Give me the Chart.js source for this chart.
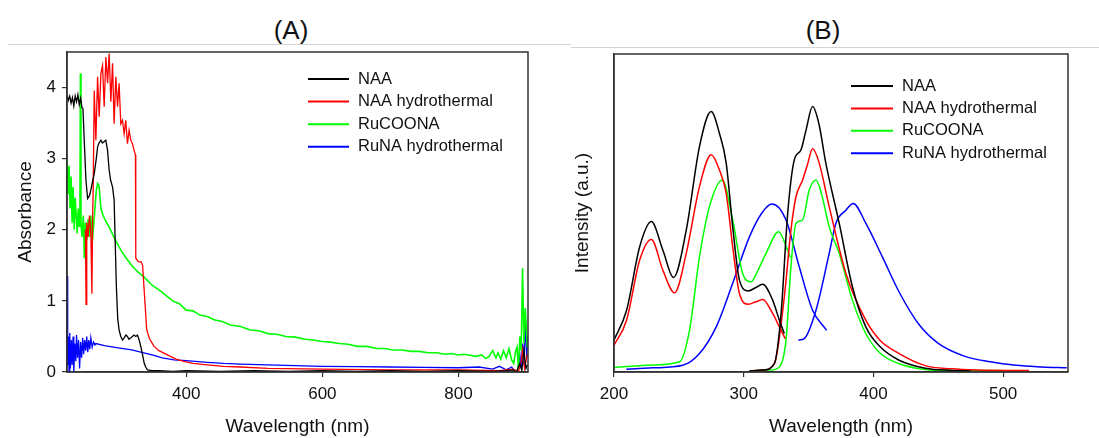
<!DOCTYPE html>
<html>
<head>
<meta charset="utf-8">
<script src="https://cdn.jsdelivr.net/npm/chart.js@4.4.1/dist/chart.umd.min.js"></script>
<style>
  body { margin: 0; background: #fff; width: 1099px; height: 438px; overflow: hidden; position: relative; font-family: 'Liberation Sans', Arial, sans-serif; }
  canvas { position: absolute; top: 0; }
  #chartA { left: 0; }
  #chartB { left: 560px; }
  .panelTitle { position: absolute; top: 15px; line-height: 30px; font-size: 26px; color: #111; transform: translateX(-50%); }
  .rule { position: absolute; height: 0; border-top: 1.5px solid #d4d4d4; }
</style>
</head>
<body>
<div class="panelTitle" style="left:291px">(A)</div>
<div class="panelTitle" style="left:823px">(B)</div>
<div class="rule" style="left:8px; width:563px; top:44px"></div>
<div class="rule" style="left:571px; width:528px; top:47px"></div>
<canvas id="chartA" width="560" height="438"></canvas>
<canvas id="chartB" width="539" height="438"></canvas>
<script>
// series names and tick values
const seriesNames = ['NAA', 'NAA hydrothermal', 'RuCOONA', 'RuNA hydrothermal'];
const xTicksA = [400, 600, 800];
const yTicksA = [0, 1, 2, 3, 4];
const xTicksB = [200, 300, 400, 500];

// (A) absorbance, [wavelength nm, absorbance]
const absNAA = [[225,3.9],[227,3.82],[229,3.88],[231,3.78],[233,3.86],[235,3.74],[237,3.88],[239,3.8],[241,3.9],[243,3.76],[245,3.85],[247,3.72],[248.5,3.7],[250.3,3.26],[252.8,2.7],[255.3,2.44],[258,2.48],[260.1,2.56],[263,2.7],[265,2.79],[268,3.0],[270,3.17],[272,3.22],[274.8,3.26],[277,3.22],[279.7,3.24],[282,3.26],[284.5,3.12],[286.9,2.84],[289,2.7],[291.9,2.6],[294.2,2.42],[295.7,1.86],[297.5,1.2],[299.5,0.75],[301.5,0.59],[304,0.5],[306.5,0.45],[309,0.48],[311.5,0.52],[313.8,0.5],[316,0.46],[318.7,0.48],[321,0.5],[323.5,0.52],[326,0.5],[328.5,0.52],[331,0.45],[333.3,0.36],[335.8,0.25],[338.2,0.13],[340.5,0.07],[343.1,0.03],[350,0.02],[360,0.02],[380,0.01],[400,0.02],[450,0.01],[500,0.02],[550,0.01],[600,0.02],[650,0.01],[700,0.02],[750,0.01],[800,0.02],[850,0.01],[870,0.02],[880,0.03],[885,0.0],[890,0.12],[893,0.02],[896,0.3],[899,0.05],[901,0.1]];
const absNAAHydro = [[252,2.0],[253,0.95],[254,2.1],[256,1.9],[258,2.2],[260,1.95],[261.6,1.1],[262.5,2.1],[263.5,2.6],[265,3.96],[267.4,3.26],[269.9,4.15],[272.3,3.59],[274.8,4.2],[277.2,4.31],[279.6,3.73],[282.1,4.43],[284.6,4.06],[286.9,4.48],[289.4,3.8],[291.9,4.34],[294.2,3.49],[296.7,4.15],[299.2,3.73],[301.5,4.06],[304,3.49],[306.5,3.54],[308.9,3.35],[311.3,3.54],[313.8,3.21],[316.2,3.4],[318.7,3.26],[321.1,3.21],[323.5,3.12],[325.5,3.05],[326,1.6],[330,1.55],[334,1.55],[336,1.5],[338,1.2],[340,0.9],[342,0.6],[346,0.47],[352.8,0.36],[360,0.3],[372.4,0.24],[385,0.18],[396.7,0.15],[410,0.12],[430.9,0.1],[455,0.08],[479.6,0.07],[520,0.05],[600,0.04],[700,0.03],[800,0.03],[860,0.02],[880,0.04],[888,0.01],[892,0.15],[894,0.31],[897,0.05],[901,0.25]];
const absRuCOONA = [[225,3.0],[226.5,2.5],[228,2.9],[229.5,2.3],[231,2.75],[232.5,2.1],[234,2.6],[235.5,2.0],[237,2.45],[238.5,2.2],[240,1.95],[241.5,2.3],[243,2.05],[244,2.2],[244.7,4.2],[245.5,2.1],[247,1.9],[249,2.2],[250.5,1.6],[252,2.1],[254,1.85],[256,2.15],[258,1.9],[260,2.2],[262,1.8],[264,2.05],[266,2.3],[268,2.55],[270,2.65],[272,2.62],[274.8,2.3],[278,2.2],[282,2.12],[288,2.02],[295.6,1.86],[305,1.7],[312,1.6],[321.6,1.48],[330,1.4],[337.5,1.34],[350,1.22],[363.6,1.13],[380,1.0],[390,0.96],[400,0.87],[410,0.86],[420,0.8],[431,0.78],[442,0.73],[453,0.71],[465,0.66],[480,0.64],[494,0.59],[507,0.58],[520,0.54],[533,0.53],[546.5,0.5],[560,0.49],[575,0.46],[587,0.45],[600,0.43],[612,0.42],[625,0.4],[638,0.39],[651,0.36],[665,0.36],[680,0.33],[692,0.33],[703,0.31],[717,0.31],[730,0.29],[742,0.29],[755.6,0.27],[768,0.27],[780,0.25],[790,0.26],[799,0.24],[808,0.25],[815,0.24],[825,0.22],[834,0.24],[840,0.19],[845,0.22],[850,0.3],[855,0.2],[858,0.27],[862,0.18],[866,0.3],[870,0.2],[874,0.33],[878,0.17],[881,0.12],[884,0.3],[886,0.35],[888,0.02],[890,0.5],[892,0.3],[894,1.46],[896,0.4],[898,0.9],[901,0.35]];
const absRuNAHydro = [[225,1.35],[226,0.1],[227,0.5],[228,0.0],[229,0.55],[230,0.05],[231.5,0.45],[232.5,0.1],[234,0.5],[235,0.0],[236.5,0.4],[238,0.15],[239,0.52],[240.5,0.2],[242,0.45],[243.5,0.05],[245,0.42],[246.5,0.2],[248,0.48],[249.5,0.25],[251,0.45],[252.5,0.3],[254,0.5],[255.5,0.28],[257,0.45],[258.5,0.32],[260,0.48],[262,0.35],[264,0.42],[266,0.38],[267.4,0.4],[280,0.37],[300,0.34],[320,0.31],[333.3,0.28],[350,0.24],[365,0.2],[382,0.17],[400,0.16],[431,0.135],[455,0.12],[480,0.11],[520,0.1],[560,0.09],[600,0.08],[650,0.075],[700,0.07],[750,0.065],[800,0.06],[830,0.07],[850,0.04],[860,0.08],[870,0.03],[878,0.07],[883,0.0],[887,0.02],[890,0.25],[892,0.05],[894,0.4],[896,0.1],[898,0.7],[900,0.2],[901,0.5]];

// (B) intensity, excitation and emission parts, [wavelength nm, intensity a.u.]
const excNAA = [[200,10],[209.7,19.4],[219.8,39.4],[228.8,47.3],[237.7,38.3],[245.9,29.7],[255.7,44.6],[265.9,70.9],[274.9,81.9],[281.3,75],[286.5,65.7],[291.5,45.7],[296.7,28.9],[303.6,25.5],[309,26.5],[314.7,27.6],[322.3,22.6],[327.5,16.3],[331.3,12.1]];
const emNAA = [[304.4,0.3],[315,0.6],[323.6,2.6],[328.8,18.4],[333.9,49.9],[339,66.7],[344.1,69.8],[348,76],[353.1,83.5],[358,78],[363.3,65.7],[373.6,46.8],[383.8,26.8],[394.1,14.2],[405,8],[419.8,3.7],[440,1.2],[460,0.5],[475,0.3]];
const excNAAHydro = [[200,8.4],[209.7,16.3],[219.8,35.2],[228.8,41.7],[237.7,32],[246.7,24.9],[255.7,37.3],[265.9,58.3],[274.9,68.3],[281.3,63.5],[286.5,56.2],[291.5,39.4],[296.7,24.7],[303.6,21.3],[309,22],[314.7,22.8],[322.3,18.4],[327.5,14.2],[332,10.5]];
const emNAAHydro = [[304.4,0.3],[315,0.6],[323.6,2.6],[331.3,23.6],[336.4,44.6],[340.3,55.1],[345.4,60.4],[349,65],[353.1,70.2],[358,66],[365.9,52],[378.8,31],[394.1,16.3],[405,10],[419.8,5.8],[440,2],[460,1],[480,0.6],[500,0.5],[520,0.5]];
const excRuCOONA = [[200,1.4],[230,2.2],[250.5,3.2],[258.2,13.1],[265.9,36.2],[273.6,52],[283.4,60.4],[291.5,47.8],[299.2,31],[305.7,28.4],[311,32],[317.2,37.3],[326.9,44.1],[333.8,38.3],[336,36]];
const emRuCOONA = [[304.4,0.3],[320,0.6],[327.5,1.6],[332.6,10],[336.4,33.1],[340.3,46.8],[345.4,47.8],[350.5,57.2],[355.7,60.4],[360,56],[365.9,45.7],[373.6,37.3],[383.8,22.6],[394.1,12.1],[405,6],[419.8,2.6],[440,0.8],[460,0.5],[480,0.5],[500,0.5]];
const excRuNAHydro = [[209.5,0.85],[230,1.3],[253,2.1],[265.9,5.8],[278.8,14.2],[291.5,27.9],[304.4,42.5],[314,50],[321.8,52.8],[332.6,47.8],[342.8,33.1],[353.1,19.4],[363.9,13.1]];
const emRuNAHydro = [[342.1,10],[346.7,10.5],[355.7,19.4],[365.9,37.3],[371.1,46.8],[378.8,50.9],[384.4,53],[394.1,46.8],[406.9,36.2],[420,25],[435,15],[450,9],[470,5],[490,3.2],[510,2.1],[530,1.6],[549,1.3]];

const colors = ['#000000', '#ff0000', '#00ff00', '#0000ff'];
const fontFamily = "'Liberation Sans', Arial, sans-serif";
const axisColor = '#333333';

function pts(arr) {
    return arr.map(p => ({ x: p[0], y: p[1] }));
}

// box round the plot area
const framePlugin = {
    id: 'frame',
    afterDatasetsDraw(chart) {
        const { ctx, chartArea: a } = chart;
        ctx.save();
        ctx.strokeStyle = axisColor;
        ctx.lineWidth = 1.5;
        ctx.strokeRect(a.left, a.top, a.right - a.left, a.bottom - a.top);
        ctx.restore();
    }
};

// legend drawn inside the plot, like the original figure
const insideLegend = {
    id: 'insideLegend',
    afterDraw(chart, args, opts) {
        const ctx = chart.ctx;
        ctx.save();
        ctx.font = '16.5px ' + fontFamily;
        ctx.textBaseline = 'middle';
        seriesNames.forEach((name, i) => {
            const y = opts.top + i * opts.step;
            ctx.strokeStyle = colors[i];
            ctx.lineWidth = 2;
            ctx.beginPath();
            ctx.moveTo(opts.lineStart, y);
            ctx.lineTo(opts.lineEnd, y);
            ctx.stroke();
            ctx.fillStyle = '#111';
            ctx.fillText(name, opts.textX, y);
        });
        ctx.restore();
    }
};

function xScale(min, max, ticks) {
    return {
        type: 'linear', min: min, max: max,
        afterBuildTicks: s => { s.ticks = ticks.map(v => ({ value: v })); },
        afterFit: s => { s.height = 66; },
        grid: { drawOnChartArea: false, drawTicks: true, tickLength: 5, color: axisColor, lineWidth: 1.2 },
        border: { color: axisColor, width: 1.5 },
        ticks: { color: '#111', font: { size: 17, family: fontFamily }, padding: 7, maxRotation: 0 },
        title: { display: true, text: 'Wavelength (nm)', color: '#111', font: { size: 19, family: fontFamily }, padding: { top: 0, bottom: 0 } }
    };
}

// (A) absorbance
const absSeries = [absNAA, absNAAHydro, absRuCOONA, absRuNAHydro];
new Chart(document.getElementById('chartA'), {
    type: 'line',
    data: {
        datasets: absSeries.map((s, i) => ({
            label: seriesNames[i],
            data: pts(s),
            borderColor: colors[i],
            borderWidth: i === 2 ? 1.6 : 1.3,
            pointRadius: 0,
            fill: false,
            tension: 0
        }))
    },
    options: {
        responsive: false,
        animation: false,
        devicePixelRatio: 1,
        layout: { padding: { left: 0, right: 32, top: 52, bottom: 0 } },
        plugins: {
            legend: { display: false },
            tooltip: { enabled: false },
            insideLegend: { lineStart: 308, lineEnd: 349, textX: 358, top: 79, step: 22.6 }
        },
        scales: {
            x: xScale(225, 902, xTicksA),
            y: {
                type: 'linear', min: 0, max: 4.5,
                afterBuildTicks: s => { s.ticks = yTicksA.map(v => ({ value: v })); },
                afterFit: s => { s.width = 67; },
                grid: { drawOnChartArea: false, drawTicks: true, tickLength: 5, color: axisColor, lineWidth: 1.2 },
                border: { color: axisColor, width: 1.5 },
                ticks: { color: '#111', font: { size: 17, family: fontFamily }, padding: 6 },
                title: { display: true, text: 'Absorbance', color: '#111', font: { size: 19, family: fontFamily }, padding: { top: 14, bottom: 0 } }
            }
        }
    },
    plugins: [framePlugin, insideLegend]
});

// (B) intensity: each sample has an excitation and an emission curve
const flSeries = [[excNAA, emNAA], [excNAAHydro, emNAAHydro], [excRuCOONA, emRuCOONA], [excRuNAHydro, emRuNAHydro]];
const flDatasets = [];
flSeries.forEach((pair, i) => {
    pair.forEach(s => {
        flDatasets.push({
            label: seriesNames[i],
            data: pts(s),
            borderColor: colors[i],
            borderWidth: 1.5,
            pointRadius: 0,
            fill: false,
            cubicInterpolationMode: 'monotone'
        });
    });
});

new Chart(document.getElementById('chartB'), {
    type: 'line',
    data: { datasets: flDatasets },
    options: {
        responsive: false,
        animation: false,
        devicePixelRatio: 1,
        layout: { padding: { left: 0, right: 31, top: 54, bottom: 0 } },
        plugins: {
            legend: { display: false },
            tooltip: { enabled: false },
            insideLegend: { lineStart: 291, lineEnd: 333, textX: 342, top: 86, step: 22.4 }
        },
        scales: {
            x: xScale(200, 550, xTicksB),
            y: {
                type: 'linear', min: 0, max: 100,
                afterFit: s => { s.width = 54; },
                grid: { display: false, drawOnChartArea: false, drawTicks: false },
                border: { color: axisColor, width: 1.5 },
                ticks: { display: false },
                title: { display: true, text: 'Intensity (a.u.)', color: '#111', font: { size: 19, family: fontFamily }, padding: { top: 11, bottom: 0 } }
            }
        }
    },
    plugins: [framePlugin, insideLegend]
});
</script>
</body>
</html>
